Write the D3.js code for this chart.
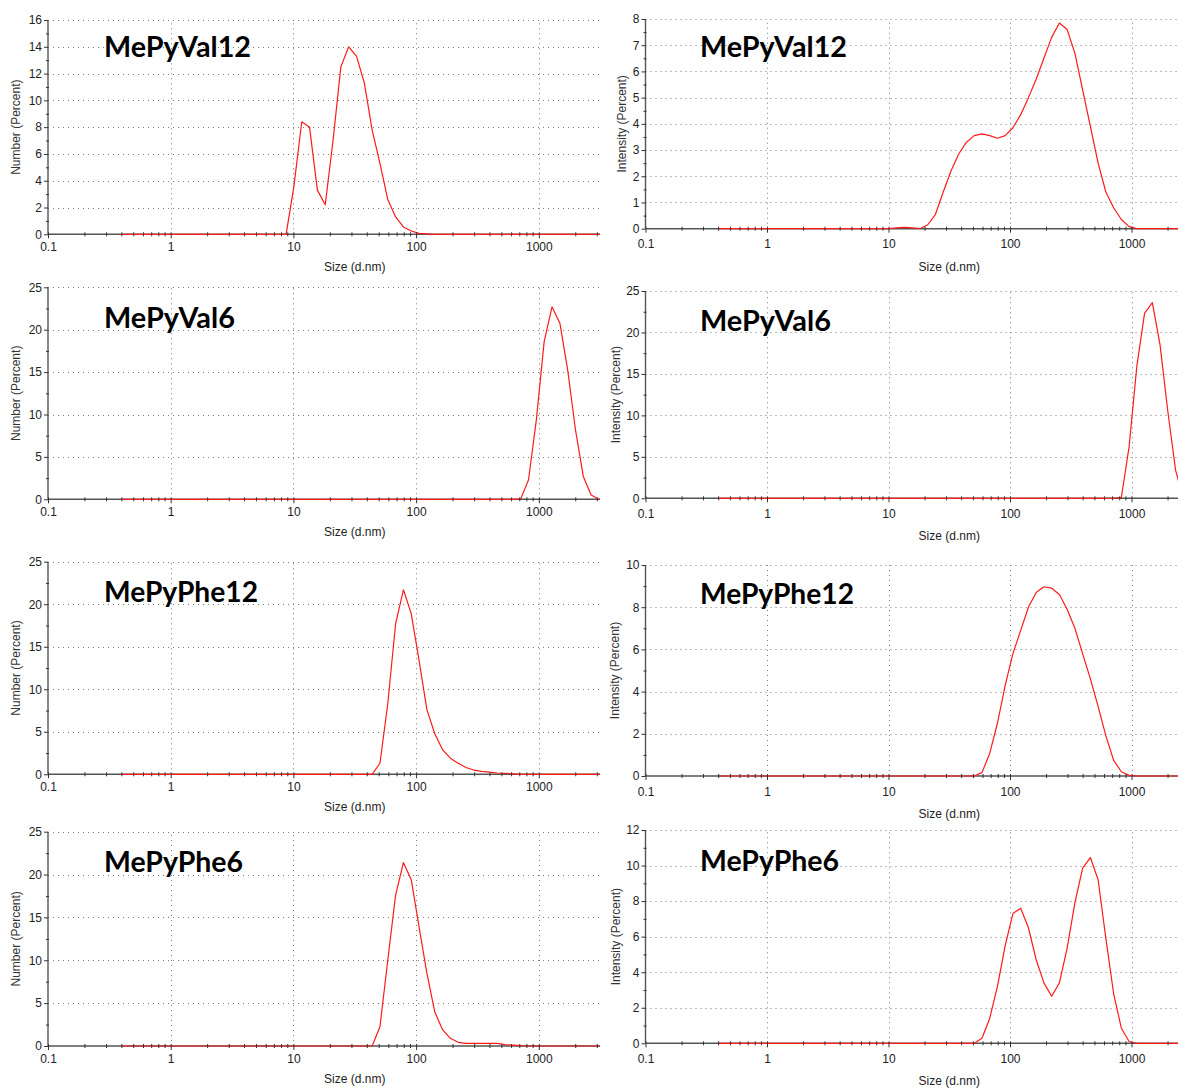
<!DOCTYPE html>
<html>
<head>
<meta charset="utf-8">
<script src="https://cdn.jsdelivr.net/npm/d3@7"></script>
<style>
  body { margin: 0; background: #fff; }
  svg { display: block; font-family: "Liberation Sans", Arial, sans-serif; }
</style>
</head>
<body>
<svg id="chart" width="1178" height="1088"></svg>
<script>

// size classes of the instrument (d.nm)
const sizeBins = [
    0.4, 0.4632, 0.5365, 0.6213, 0.7195, 0.8332, 0.9649, 1.117, 1.294, 1.499,
    1.736, 2.01, 2.328, 2.696, 3.122, 3.615, 4.187, 4.849, 5.615, 6.503,
    7.531, 8.721, 10.1, 11.7, 13.54, 15.69, 18.17, 21.04, 24.36, 28.21,
    32.67, 37.84, 43.82, 50.75, 58.77, 68.06, 78.82, 91.28, 105.7, 122.4,
    141.8, 164.2, 190.1, 220.2, 255.0, 295.3, 342.0, 396.1, 458.7, 531.2,
    615.1, 712.4, 825.0, 955.4, 1106, 1281, 1484, 1718, 1990, 2305,
    2669, 3091, 3580
];

// one value per size class, percent
const numberVal12 = [
    0, 0, 0, 0, 0, 0, 0, 0, 0, 0,
    0, 0, 0, 0, 0, 0, 0, 0, 0, 0,
    0, 0, 3.6, 8.4, 8.0, 3.3, 2.2, 7.0, 12.5, 14.0,
    13.3, 11.3, 7.8, 5.3, 2.6, 1.3, 0.55, 0.25, 0.07, 0.03,
    0, 0, 0, 0, 0, 0, 0, 0, 0, 0,
    0, 0, 0, 0, 0, 0, 0, 0, 0, 0,
    0, 0, 0
];
const intensityVal12 = [
    0, 0, 0, 0, 0, 0, 0, 0, 0, 0,
    0, 0, 0, 0, 0, 0, 0, 0, 0, 0,
    0, 0, 0, 0.03, 0.05, 0.03, 0, 0.15, 0.55, 1.4,
    2.2, 2.85, 3.3, 3.55, 3.62, 3.55, 3.45, 3.55, 3.85, 4.35,
    5.0, 5.7, 6.5, 7.3, 7.85, 7.6, 6.7, 5.3, 3.9, 2.5,
    1.4, 0.8, 0.35, 0.08, 0, 0, 0, 0, 0, 0,
    0, 0, 0
];
const numberVal6 = [
    0, 0, 0, 0, 0, 0, 0, 0, 0, 0,
    0, 0, 0, 0, 0, 0, 0, 0, 0, 0,
    0, 0, 0, 0, 0, 0, 0, 0, 0, 0,
    0, 0, 0, 0, 0, 0, 0, 0, 0, 0,
    0, 0, 0, 0, 0, 0, 0, 0, 0, 0,
    0, 0.05, 2.3, 9.4, 18.6, 22.7, 20.8, 15.3, 8.2, 2.7,
    0.5, 0, 0
];
const intensityVal6 = [
    0, 0, 0, 0, 0, 0, 0, 0, 0, 0,
    0, 0, 0, 0, 0, 0, 0, 0, 0, 0,
    0, 0, 0, 0, 0, 0, 0, 0, 0, 0,
    0, 0, 0, 0, 0, 0, 0, 0, 0, 0,
    0, 0, 0, 0, 0, 0, 0, 0, 0, 0,
    0, 0, 0.1, 6.2, 15.9, 22.3, 23.6, 18.5, 10.5, 3.4,
    0, 0, 0
];
const numberPhe12 = [
    0, 0, 0, 0, 0, 0, 0, 0, 0, 0,
    0, 0, 0, 0, 0, 0, 0, 0, 0, 0,
    0, 0, 0, 0, 0, 0, 0, 0, 0, 0,
    0, 0, 0, 1.3, 8.3, 17.7, 21.7, 18.9, 13.4, 7.6,
    4.8, 2.9, 1.9, 1.3, 0.8, 0.5, 0.35, 0.25, 0.15, 0.1,
    0.05, 0, 0, 0, 0, 0, 0, 0, 0, 0,
    0, 0, 0
];
const intensityPhe12 = [
    0, 0, 0, 0, 0, 0, 0, 0, 0, 0,
    0, 0, 0, 0, 0, 0, 0, 0, 0, 0,
    0, 0, 0, 0, 0, 0, 0, 0, 0, 0,
    0, 0, 0, 0, 0.16, 1.07, 2.5, 4.3, 5.8, 6.9,
    8.0, 8.7, 8.97, 8.9, 8.6, 7.9, 7.0, 5.8, 4.6, 3.3,
    1.9, 0.75, 0.2, 0.03, 0, 0, 0, 0, 0, 0,
    0, 0, 0
];
const numberPhe6 = [
    0, 0, 0, 0, 0, 0, 0, 0, 0, 0,
    0, 0, 0, 0, 0, 0, 0, 0, 0, 0,
    0, 0, 0, 0, 0, 0, 0, 0, 0, 0,
    0, 0, 0, 2.25, 10.0, 17.6, 21.4, 19.4, 13.9, 8.5,
    4.0, 1.9, 0.9, 0.43, 0.3, 0.3, 0.3, 0.3, 0.3, 0.15,
    0.1, 0.05, 0, 0, 0, 0, 0, 0, 0, 0,
    0, 0, 0
];
const intensityPhe6 = [
    0, 0, 0, 0, 0, 0, 0, 0, 0, 0,
    0, 0, 0, 0, 0, 0, 0, 0, 0, 0,
    0, 0, 0, 0, 0, 0, 0, 0, 0, 0,
    0, 0, 0, 0, 0.28, 1.4, 3.2, 5.5, 7.3, 7.6,
    6.5, 4.7, 3.4, 2.65, 3.4, 5.35, 7.9, 9.85, 10.45, 9.2,
    5.9, 2.8, 0.85, 0.1, 0, 0, 0, 0, 0, 0,
    0, 0, 0
];

const panelTitles = ['MePyVal12', 'MePyVal12', 'MePyVal6', 'MePyVal6',
    'MePyPhe12', 'MePyPhe12', 'MePyPhe6', 'MePyPhe6'];
const panelSeries = [numberVal12, intensityVal12, numberVal6, intensityVal6,
    numberPhe12, intensityPhe12, numberPhe6, intensityPhe6];
const yMaxes = [16, 8, 25, 25, 25, 10, 25, 12];
const ySteps = [2, 1, 5, 5, 5, 2, 5, 2];
const yAxisTitles = ['Number (Percent)', 'Intensity (Percent)'];
const xTickValues = [0.1, 1, 10, 100, 1000];
const xTickLabels = ['0.1', '1', '10', '100', '1000'];
const xAxisTitle = 'Size (d.nm)';

// layout: one entry per column and per panel
const columns = [
    { axisX: 48, decade: 122.7, clipLeft: 0, clipRight: 600, titleX: 104, labelGap: 14, sizeGap: 34 },
    { axisX: 645.5, decade: 121.5, clipLeft: 600, clipRight: 1178, titleX: 700, labelGap: 17, sizeGap: 39 }
];
const panels = [
    { y0: 234.3, yTop: 20, titleY: 57, titleW: 147, yTitleX: 17 },
    { y0: 228.7, yTop: 19, titleY: 57, titleW: 147, yTitleX: 623 },
    { y0: 499.3, yTop: 287.3, titleY: 328, titleW: 131, yTitleX: 17 },
    { y0: 498.3, yTop: 291, titleY: 331, titleW: 131, yTitleX: 617 },
    { y0: 774.3, yTop: 561.7, titleY: 602, titleW: 154, yTitleX: 17 },
    { y0: 776, yTop: 565, titleY: 604, titleW: 154, yTitleX: 616 },
    { y0: 1046, yTop: 831.7, titleY: 872, titleW: 139, yTitleX: 17 },
    { y0: 1043.3, yTop: 830, titleY: 871, titleW: 139, yTitleX: 617 }
];

const svg = d3.select('#chart');
const defs = svg.append('defs');

columns.forEach((c, i) => {
    defs.append('clipPath')
        .attr('id', 'col' + i)
        .append('rect')
        .attr('x', c.clipLeft)
        .attr('y', 0)
        .attr('width', c.clipRight - c.clipLeft)
        .attr('height', 1088);
});

panels.forEach((p, i) => {

    let col = i % 2;
    let c = columns[col];
    let yMax = yMaxes[i];
    let step = ySteps[i];

    let x = d3.scaleLog()
        .domain([0.1, 10000])
        .range([c.axisX, c.axisX + 5 * c.decade]);

    let y = d3.scaleLinear()
        .domain([0, yMax])
        .range([p.y0, p.yTop]);

    let g = svg.append('g')
        .attr('clip-path', `url(#col${col})`);

    let majorY = d3.range(0, yMax + step / 2, step);
    let minorY = d3.range(step / 2, yMax, step);

    // Grid
    g.append('g')
        .selectAll('line')
        .data(majorY.slice(1))
        .enter()
        .append('line')
        .attr('x1', c.axisX)
        .attr('x2', c.clipRight)
        .attr('y1', d => Math.round(y(d)) + 0.5)
        .attr('y2', d => Math.round(y(d)) + 0.5)
        .attr('stroke', '#7a7a7a')
        .attr('stroke-dasharray', '1,4');

    g.append('g')
        .selectAll('line')
        .data(xTickValues.slice(1))
        .enter()
        .append('line')
        .attr('x1', d => Math.round(x(d)) + 0.5)
        .attr('x2', d => Math.round(x(d)) + 0.5)
        .attr('y1', y(0))
        .attr('y2', y(yMax))
        .attr('stroke', '#7a7a7a')
        .attr('stroke-dasharray', '1,4');

    // Axis lines
    g.append('line')
        .attr('x1', c.axisX).attr('x2', c.axisX)
        .attr('y1', y(0)).attr('y2', y(yMax))
        .attr('stroke', '#555').attr('stroke-width', 1.4);

    g.append('line')
        .attr('x1', c.axisX).attr('x2', c.clipRight)
        .attr('y1', y(0)).attr('y2', y(0))
        .attr('stroke', '#555').attr('stroke-width', 1.6);

    // Distribution line
    let line = d3.line()
        .x((d, k) => x(sizeBins[k]))
        .y(d => y(d));

    g.append('path')
        .datum(panelSeries[i])
        .attr('d', line)
        .attr('fill', 'none')
        .attr('stroke', '#ff1a1a')
        .attr('stroke-width', 1.2)
        .attr('stroke-linejoin', 'round');

    // y axis ticks and labels
    let yAxis = d3.axisLeft(y)
        .tickValues(majorY)
        .tickSize(4)
        .tickPadding(2)
        .tickFormat(d3.format('d'));

    g.append('g')
        .attr('transform', `translate(${c.axisX},0)`)
        .call(yAxis)
        .call(a => a.select('.domain').remove())
        .call(a => a.selectAll('line').attr('stroke', '#333'))
        .call(a => a.selectAll('text')
            .attr('font-size', 12)
            .attr('font-family', '"Liberation Sans", Arial, sans-serif')
            .attr('fill', '#222'));

    let yMinor = d3.axisLeft(y)
        .tickValues(minorY)
        .tickSize(3)
        .tickFormat('');

    g.append('g')
        .attr('transform', `translate(${c.axisX + 1},0)`)
        .call(yMinor)
        .call(a => a.select('.domain').remove())
        .call(a => a.selectAll('line').attr('stroke', '#333'));

    // x axis ticks and labels
    let xAxis = d3.axisBottom(x)
        .tickValues(xTickValues)
        .tickSize(4)
        .tickPadding(c.labelGap - 10)
        .tickFormat((d, k) => xTickLabels[k]);

    g.append('g')
        .attr('transform', `translate(0,${y(0)})`)
        .call(xAxis)
        .call(a => a.select('.domain').remove())
        .call(a => a.selectAll('line').attr('stroke', '#333').attr('y1', -2))
        .call(a => a.selectAll('text')
            .attr('font-size', 12)
            .attr('font-family', '"Liberation Sans", Arial, sans-serif')
            .attr('fill', '#222'));

    let minorX = x.ticks().filter(d => xTickValues.indexOf(d) < 0 && d < 10000);

    g.append('g')
        .selectAll('line')
        .data(minorX)
        .enter()
        .append('line')
        .attr('x1', d => x(d))
        .attr('x2', d => x(d))
        .attr('y1', y(0) - 2)
        .attr('y2', y(0) + 2)
        .attr('stroke', '#333');

    // axis titles
    g.append('text')
        .attr('x', c.axisX + 2.5 * c.decade)
        .attr('y', y(0) + c.sizeGap)
        .attr('text-anchor', 'middle')
        .attr('dominant-baseline', 'middle')
        .attr('font-size', 12)
        .attr('fill', '#222')
        .text(xAxisTitle);

    g.append('text')
        .attr('transform', `translate(${p.yTitleX},${(y(0) + y(yMax)) / 2}) rotate(-90)`)
        .attr('text-anchor', 'middle')
        .attr('dominant-baseline', 'middle')
        .attr('font-size', 12)
        .attr('fill', '#333')
        .text(yAxisTitles[col]);

    // sample name
    g.append('text')
        .attr('x', c.titleX)
        .attr('y', p.titleY)
        .attr('font-family', 'Lato, "Open Sans", sans-serif')
        .attr('font-weight', 700)
        .attr('font-size', 28)
        .attr('fill', '#000')
        .attr('textLength', p.titleW)
        .attr('lengthAdjust', 'spacingAndGlyphs')
        .text(panelTitles[i]);
});

</script>
</body>
</html>
